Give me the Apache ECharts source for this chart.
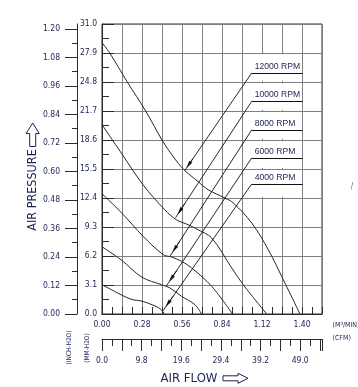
<!DOCTYPE html>
<html><head><meta charset="utf-8">
<script src="https://cdn.jsdelivr.net/npm/echarts@6/dist/echarts.min.js"></script>
<style>html,body{margin:0;padding:0;background:#fff;}#c{width:358px;height:387px;}</style>
</head><body><div id="c"></div>
<script>
// ---- tick labels ----
const flowTicksM3 = [0.00, 0.28, 0.56, 0.84, 1.12, 1.40];
const flowTicksCFM = [0.0, 9.8, 19.6, 29.4, 39.2, 49.0];
const pressTicksMM = [0.0, 3.1, 6.2, 9.3, 12.4, 15.5, 18.6, 21.7, 24.8, 27.9, 31.0];
const pressTicksInch = [0.00, 0.12, 0.24, 0.36, 0.48, 0.60, 0.72, 0.84, 0.96, 1.08, 1.20];

// ---- series: [flow m3/min, pressure mmH2O] ----
const rpm12000 = [[0,29.0],[0.054,27.9],[0.177,24.8],[0.306,21.7],[0.42,18.6],[0.497,16.85],[0.574,15.42],[0.672,14.17],[0.742,13.29],[0.861,12.4],[0.919,11.87],[1.048,9.73],[1.164,6.87],[1.269,3.67],[1.386,0]];
const rpm10000 = [[0,20.24],[0.135,17.21],[0.287,13.82],[0.439,11.15],[0.52,10.08],[0.602,9.55],[0.672,9.01],[0.768,8.12],[0.908,4.92],[0.99,3.1],[1.153,0]];
const rpm8000 = [[0,12.86],[0.138,10.8],[0.289,8.29],[0.429,6.34],[0.488,6.09],[0.558,5.62],[0.628,4.92],[0.768,2.95],[0.914,0]];
const rpm6000 = [[0,7.19],[0.133,5.8],[0.28,3.93],[0.417,3.13],[0.476,2.78],[0.558,1.88],[0.651,0.99],[0.697,0]];
const rpm4000 = [[0,3.13],[0.126,2.12],[0.203,1.58],[0.28,1.37],[0.35,0.99],[0.406,0.57],[0.4375,0]];

// ---- annotations ----
const rpmNames = ['12000 RPM', '10000 RPM', '8000 RPM', '6000 RPM', '4000 RPM'];
const labelLevels = [25.76, 22.73, 19.68, 16.68, 13.9];
const labelStartQ = 1.048, labelEndQ = 1.405;
const arrowTips = [[0.58,15.35],[0.515,10.3],[0.476,6.18],[0.4515,3.02],[0.427,0.35]];
const maskedFlows = [1.12, 1.26];
const maskedLevels = [12.4, 15.5, 18.6, 21.7, 24.8, 27.9];

const M3_TO_CFM = 35.3147;
const flowMax = 1.54, pressMax = 31.0;

const FONT = '"Liberation Sans Narrow","DejaVu Sans Condensed",sans-serif';
const FONT2 = '"Liberation Sans","DejaVu Sans",sans-serif';
const TXT = '#1b2450';
const GRIDC = '#808080';
const DARK = '#2b2b2b';
const CURVE = '#262626';
const near = (arr, v, eps) => arr.some(t => Math.abs(t - v) < eps);

const curveSeries = [rpm12000, rpm10000, rpm8000, rpm6000, rpm4000].map((d, i) => ({
  type: 'line', name: rpmNames[i], data: d, symbol: 'none', smooth: 0.35,
  lineStyle: { color: CURVE, width: 1 }, silent: true, z: 3
}));

const leaderData = [], arrowData = [], underlineData = [];
rpmNames.forEach((n, i) => {
  const s = [labelStartQ, labelLevels[i]], t = arrowTips[i];
  const lerp = f => [t[0] + f * (s[0] - t[0]), t[1] + f * (s[1] - t[1])];
  leaderData.push([{ coord: s }, { coord: t }]);
  arrowData.push([{ coord: lerp(0.12), symbol: 'none' }, { coord: lerp(0.055), symbol: 'triangle', symbolSize: [3.6, 8] }]);
  underlineData.push([{ coord: [labelStartQ, labelLevels[i]], name: n,
    label: { show: true, formatter: n, position: 'insideStartTop', distance: [3, 2], color: TXT, fontSize: 8.6, fontFamily: FONT2 } },
    { coord: [labelEndQ, labelLevels[i]] }]);
});
const maskData = [];
maskedFlows.forEach(q => {
  for (let k = 0; k < maskedLevels.length - 1; k++) {
    maskData.push([{ coord: [q, maskedLevels[k] + 0.13] }, { coord: [q, maskedLevels[k + 1] - 0.13] }]);
  }
});

const option = {
  animation: false,
  backgroundColor: '#ffffff',
  grid: { left: 102, top: 24, right: 36, bottom: 73, show: true, borderColor: DARK, borderWidth: 1, backgroundColor: 'transparent' },
  xAxis: [
    { type: 'value', min: 0, max: flowMax, interval: 0.14, position: 'bottom',
      axisLine: { show: true, onZero: false, lineStyle: { color: DARK } },
      axisTick: { show: true, inside: true, length: 7, lineStyle: { color: DARK } },
      minorTick: { show: true, splitNumber: 2, length: 7, lineStyle: { color: DARK } },
      splitLine: { show: true, lineStyle: { color: GRIDC, width: 1 } },
      axisLabel: { margin: 6, fontSize: 8.5, color: TXT, fontFamily: FONT,
        formatter: v => near(flowTicksM3, v, 1e-4) ? v.toFixed(2) : '' } },
    { type: 'value', min: 0, max: flowMax * M3_TO_CFM, interval: 4.9, position: 'bottom', offset: 25,
      axisLine: { show: true, onZero: false, lineStyle: { color: DARK } },
      axisTick: { show: true, inside: false, length: 12, lineStyle: { color: DARK } },
      minorTick: { show: true, splitNumber: 2, length: 7, lineStyle: { color: DARK } },
      splitLine: { show: false },
      axisLabel: { margin: 17, fontSize: 8.5, color: TXT, fontFamily: FONT,
        formatter: v => near(flowTicksCFM, v, 1e-3) ? v.toFixed(1) : '' } }
  ],
  yAxis: [
    { type: 'value', min: 0, max: pressMax, interval: 3.1, position: 'left',
      axisLine: { show: true, onZero: false, lineStyle: { color: DARK } },
      axisTick: { show: true, inside: true, length: 12, lineStyle: { color: DARK } },
      minorTick: { show: true, splitNumber: 2, length: 7, lineStyle: { color: DARK } },
      splitLine: { show: true, lineStyle: { color: GRIDC, width: 1 } },
      axisLabel: { margin: 5, fontSize: 8.5, color: TXT, fontFamily: FONT,
        formatter: v => near(pressTicksMM, v, 1e-3) ? v.toFixed(1) : '' } },
    { type: 'value', min: 0, max: pressMax / 25.4, interval: 0.12, position: 'left', offset: 25,
      axisLine: { show: true, onZero: false, lineStyle: { color: DARK } },
      axisTick: { show: true, inside: false, length: 12, lineStyle: { color: DARK }, customValues: pressTicksInch },
      minorTick: { show: true, splitNumber: 2, length: 5, lineStyle: { color: DARK } },
      splitLine: { show: false },
      axisLabel: { margin: 17, fontSize: 8.5, color: TXT, fontFamily: FONT, customValues: pressTicksInch,
        formatter: v => near(pressTicksInch, v, 1e-4) ? v.toFixed(2) : '' } }
  ],
  series: curveSeries.concat([
    { type: 'line', data: [], silent: true, z: 1,
      markLine: { silent: true, animation: false, symbol: 'none', label: { show: false },
        lineStyle: { color: '#ffffff', width: 2.2, type: 'solid' }, emphasis: { disabled: true }, data: maskData } },
    { type: 'line', data: [], silent: true, z: 4,
      markLine: { silent: true, animation: false, symbol: 'none', label: { show: false },
        lineStyle: { color: '#111', width: 0.9, type: 'solid' }, emphasis: { disabled: true },
        data: leaderData.concat(arrowData) } },
    { type: 'line', data: [], silent: true, z: 4,
      markLine: { silent: true, animation: false, symbol: 'none', label: { show: false },
        lineStyle: { color: '#111', width: 1, type: 'solid' }, emphasis: { disabled: true }, data: underlineData } }
  ]),
  graphic: [
    { type: 'text', x: 33, y: 190, rotation: Math.PI / 2,
      style: { text: 'AIR PRESSURE', fill: TXT, font: '12.5px ' + FONT, align: 'center', verticalAlign: 'middle' } },
    { type: 'polygon', shape: { points: [[32.7,123],[39.3,133.5],[35.7,133.5],[35.7,146.5],[29.7,146.5],[29.7,133.5],[26.1,133.5]] },
      style: { fill: 'none', stroke: TXT, lineWidth: 1 } },
    { type: 'text', x: 189, y: 378.5,
      style: { text: 'AIR FLOW', fill: TXT, font: '13px ' + FONT, align: 'center', verticalAlign: 'middle' } },
    { type: 'polygon', shape: { points: [[223,375.8],[238,375.8],[238,373.3],[248,378.3],[238,383.3],[238,380.8],[223,380.8]] },
      style: { fill: 'none', stroke: TXT, lineWidth: 1 } },
    { type: 'text', x: 69.5, y: 347.5, rotation: Math.PI / 2,
      style: { text: '(INCH-H2O)', fill: TXT, font: '6.5px ' + FONT, align: 'center', verticalAlign: 'middle' } },
    { type: 'text', x: 87.2, y: 348, rotation: Math.PI / 2,
      style: { text: '(MM-H2O)', fill: TXT, font: '6.5px ' + FONT, align: 'center', verticalAlign: 'middle' } },
    { type: 'text', x: 332.5, y: 325.5,
      style: { text: '(M³/MIN)', fill: TXT, font: '7px ' + FONT, align: 'left', verticalAlign: 'middle' } },
    { type: 'text', x: 332.5, y: 338.5,
      style: { text: '(CFM)', fill: TXT, font: '7px ' + FONT, align: 'left', verticalAlign: 'middle' } },
    { type: 'text', x: 352, y: 187,
      style: { text: '/', fill: '#666', font: '8px ' + FONT, align: 'center', verticalAlign: 'middle' } }
  ]
};
const chart = echarts.init(document.getElementById('c'), null, { renderer: 'canvas' });
chart.setOption(option);
</script>
</body></html>
